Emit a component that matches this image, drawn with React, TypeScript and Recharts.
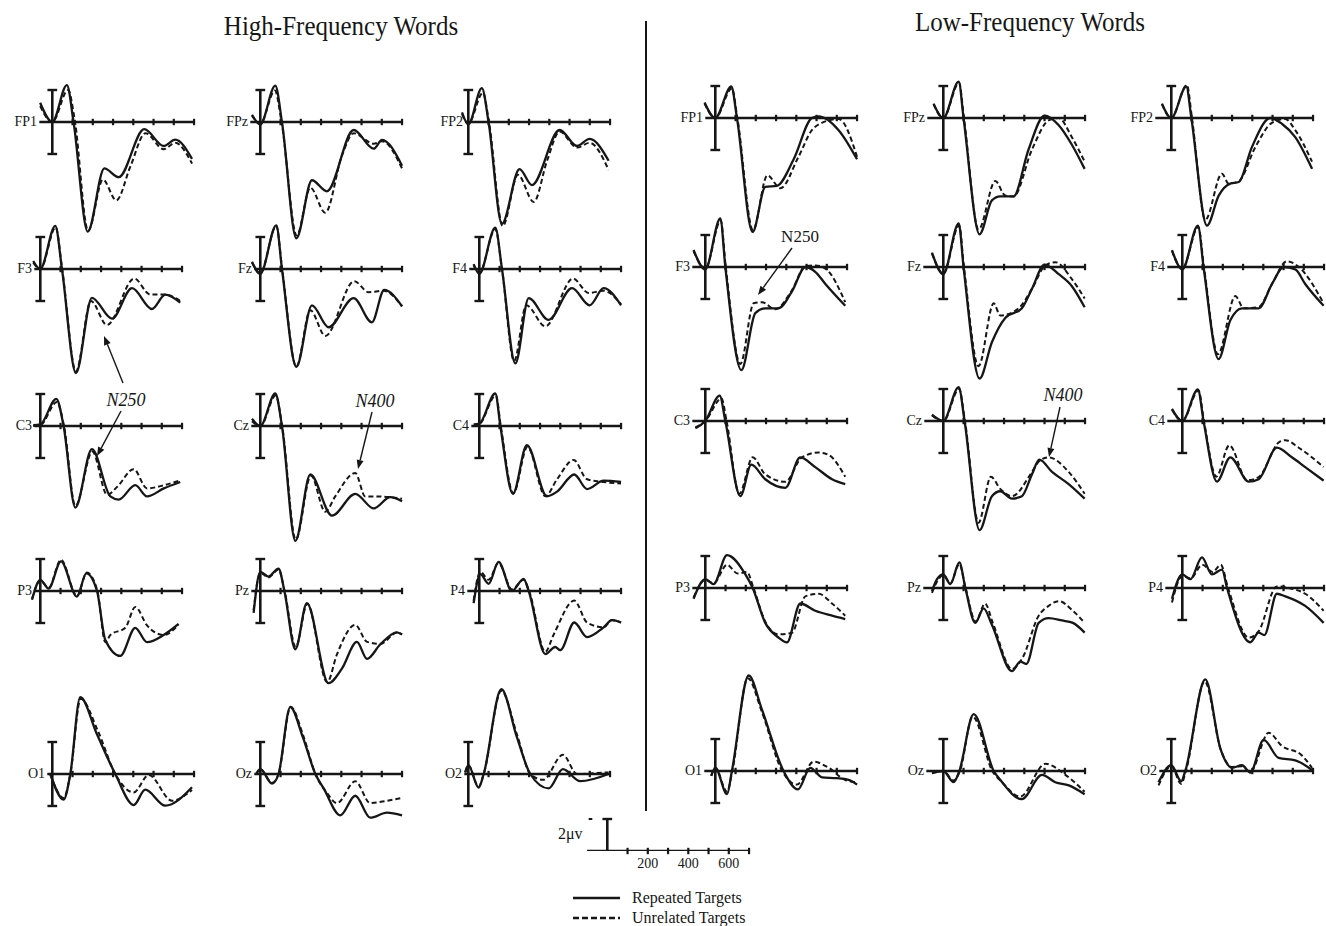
import React from "react"
import { LineChart, Line, XAxis, YAxis, ReferenceLine } from "recharts"

// ---- waveform data: [time ms, amplitude µV] ----
// High-frequency words
const HF_FP1_REP = [[-60, 1.2], [0, 0], [72, 2.3], [105, 0], [175, -6.85], [257, -2.9], [328, -3.45], [454, -0.45], [550, -1.5], [607, -1.1], [690, -2.3]]
const HF_FP1_UNR = [[-60, 1.0], [0, 0], [78, 2.0], [110, 0.2], [177, -6.8], [250, -3.6], [316, -4.9], [385, -2.8], [460, -0.7], [550, -1.7], [607, -1.3], [690, -2.6]]
const HF_FPZ_REP = [[-41, 0.45], [0, -0.15], [74, 2.27], [107, 0], [178, -7.27], [255, -3.64], [329, -4.33], [461, -0.5], [560, -1.67], [601, -1.12], [700, -2.73]]
const HF_FPZ_UNR = [[-41, 0.4], [0, -0.1], [72, 1.97], [105, 0], [180, -7.1], [247, -4.1], [321, -5.67], [403, -2.1], [461, -0.7], [560, -1.36], [601, -1.2], [700, -2.9]]
const HF_FP2_REP = [[-31, 0.6], [0, -0.15], [67, 2.12], [100, 0], [166, -6.36], [253, -2.94], [314, -3.94], [451, -0.5], [537, -1.5], [599, -1.06], [693, -2.42]]
const HF_FP2_UNR = [[-31, 0.5], [0, -0.1], [72, 1.82], [102, 0], [170, -6.5], [245, -3.3], [323, -5.0], [389, -2.42], [451, -0.6], [537, -1.6], [599, -1.3], [693, -3.0]]
const HF_F3_REP = [[-35, 0.5], [0, 0], [74, 2.7], [107, 0], [176, -6.5], [255, -1.8], [354, -3.1], [453, -1.2], [551, -2.5], [617, -1.6], [691, -2.1]]
const HF_F3_UNR = [[-35, 0.4], [0, 0], [76, 2.6], [108, 0], [176, -6.4], [250, -2.0], [329, -3.5], [464, -0.6], [543, -1.6], [617, -1.6], [691, -2.0]]
const HF_FZ_REP = [[-41, 0.45], [0, -0.3], [79, 2.73], [107, 0], [178, -6.12], [255, -2.27], [337, -3.64], [461, -1.82], [551, -3.33], [612, -1.3], [700, -2.33]]
const HF_FZ_UNR = [[-41, 0.4], [0, -0.25], [79, 2.7], [108, 0], [178, -6.1], [247, -2.58], [321, -4.18], [464, -0.76], [535, -1.45], [609, -1.36], [700, -2.33]]
const HF_F4_REP = [[-28, 0.3], [0, -0.3], [79, 2.58], [112, 0], [178, -5.9], [244, -1.82], [342, -3.18], [458, -1.2], [545, -2.27], [614, -1.2], [700, -2.27]]
const HF_F4_UNR = [[-28, 0.25], [0, -0.25], [79, 2.5], [112, 0], [172, -5.75], [232, -2.27], [326, -3.58], [463, -0.6], [540, -1.5], [614, -1.36], [700, -2.2]]
const HF_C3_REP = [[-35, 0.05], [0, 0.1], [79, 1.7], [115, 0], [173, -5.1], [255, -1.45], [346, -4.4], [387, -4.6], [469, -3.7], [527, -4.4], [610, -3.9], [691, -3.5]]
const HF_C3_UNR = [[-35, 0], [0, 0.05], [82, 1.5], [117, 0], [173, -5.0], [257, -1.6], [330, -4.3], [380, -3.8], [461, -2.7], [527, -3.9], [610, -3.7], [691, -3.4]]
const HF_CZ_REP = [[-41, 0.45], [0, 0], [74, 2.03], [107, 0], [173, -7.18], [247, -3.03], [354, -5.6], [469, -4.24], [560, -5.15], [642, -4.45], [700, -4.7]]
const HF_CZ_UNR = [[-41, 0.3], [0, 0], [76, 1.9], [108, 0], [175, -7.1], [250, -3.1], [321, -5.36], [370, -4.4], [469, -2.94], [518, -4.4], [580, -4.4], [642, -4.45], [700, -4.55]]
const HF_C4_REP = [[-28, 0.1], [0, 0.15], [79, 2.03], [104, 0], [166, -4.24], [235, -1.2], [334, -4.39], [384, -4.1], [469, -3.03], [532, -3.94], [614, -3.42], [700, -3.5]]
const HF_C4_UNR = [[-28, 0], [0, 0.1], [82, 1.9], [106, 0], [168, -4.2], [238, -1.3], [326, -4.39], [384, -3.33], [466, -2.12], [532, -3.33], [614, -3.5], [700, -3.6]]
const HF_P3_REP = [[-41, -0.55], [0, 0.7], [41, 0.15], [102, 1.85], [181, -0.35], [227, 1.1], [280, 0], [321, -3.06], [395, -4.06], [469, -2.3], [527, -3.2], [609, -2.75], [683, -2.06]]
const HF_P3_UNR = [[-41, -0.5], [0, 0.65], [41, 0.2], [102, 1.95], [181, -0.3], [230, 1.15], [282, 0], [321, -3.2], [346, -2.75], [420, -2.3], [469, -1.0], [527, -2.15], [609, -2.75], [683, -2.1]]
const HF_PZ_REP = [[-33, -1.36], [0, 1.2], [40, 0.9], [90, 1.4], [119, 0], [173, -3.64], [230, -0.76], [337, -5.76], [403, -4.85], [477, -3.18], [527, -4.24], [593, -3.33], [675, -2.58], [700, -2.73]]
const HF_PZ_UNR = [[-33, -1.2], [0, 1.15], [40, 0.85], [90, 1.35], [120, 0], [175, -3.5], [232, -0.8], [330, -5.7], [379, -3.94], [469, -2.12], [527, -3.18], [593, -3.3], [675, -2.6], [700, -2.7]]
const HF_P4_REP = [[-28, -0.76], [5, 1.06], [46, 0.45], [95, 1.82], [161, 0], [219, 0.76], [244, 0], [326, -3.94], [375, -3.5], [400, -3.7], [469, -1.97], [532, -2.88], [614, -2.27], [655, -1.82], [700, -1.97]]
const HF_P4_UNR = [[-28, -0.6], [5, 1.2], [46, 0.7], [95, 1.75], [161, 0.1], [219, 0.7], [246, 0], [326, -3.8], [367, -2.73], [469, -0.6], [532, -1.97], [614, -2.27], [655, -1.82], [700, -1.97]]
const HF_O1_REP = [[-10, 0], [56, -1.6], [89, 0], [138, 4.8], [220, 2.5], [311, 0], [402, -1.94], [459, -0.98], [558, -1.98], [690, -0.83]]
const HF_O1_UNR = [[-10, 0], [56, -1.5], [89, 0], [140, 4.7], [225, 2.7], [311, 0], [402, -1.15], [476, -0.06], [591, -1.67], [690, -1.0]]
const HF_OZ_REP = [[-20, 0], [0, 0.3], [58, -0.6], [90, 0], [148, 4.18], [210, 2.3], [272, 0], [313, -0.9], [395, -2.58], [469, -1.36], [543, -2.73], [626, -2.42], [700, -2.58]]
const HF_OZ_UNR = [[-20, 0], [0, 0.3], [58, -0.55], [90, 0], [150, 4.2], [212, 2.4], [272, 0], [330, -1.2], [379, -1.82], [469, -0.45], [543, -1.82], [626, -1.67], [700, -1.5]]
const HF_O2_REP = [[-15, 0.1], [0, 0.55], [51, -0.85], [76, 0], [163, 5.3], [240, 2.3], [306, 0], [397, -0.9], [467, 0.3], [553, -0.45], [693, 0]]
const HF_O2_UNR = [[-15, 0.1], [0, 0.55], [51, -0.8], [76, 0], [163, 5.2], [242, 2.4], [306, 0], [370, -0.36], [467, 1.2], [537, 0], [620, 0.05], [693, 0.1]]

// Low-frequency words
const LF_FP1_REP = [[-53, 0.97], [0, 0], [79, 1.97], [107, 0], [184, -7.12], [247, -4.3], [304, -4.24], [387, -2.58], [477, 0], [510, 0.1], [609, -0.76], [700, -2.58]]
const LF_FP1_UNR = [[-53, 0.9], [0, 0], [82, 1.85], [109, 0], [186, -7.0], [257, -3.58], [321, -4.39], [411, -2.42], [477, -0.76], [526, -0.3], [609, -0.06], [700, -2.42]]
const LF_FPZ_REP = [[-48, 0.9], [0, 0], [76, 2.27], [100, 0], [179, -7.27], [240, -5.15], [281, -4.9], [347, -4.9], [421, -1.97], [500, 0.15], [570, -0.45], [635, -1.67], [698, -3.18]]
const LF_FPZ_UNR = [[-48, 0.85], [0, 0], [78, 2.2], [102, 0], [174, -6.97], [257, -3.94], [306, -4.85], [347, -4.9], [438, -1.97], [520, -0.15], [570, 0], [635, -1.2], [698, -2.73]]
const LF_FP2_REP = [[-46, 0.9], [0, 0], [74, 1.97], [99, 0], [176, -6.73], [234, -4.85], [291, -4.1], [333, -4.0], [398, -1.82], [489, 0], [546, -0.36], [612, -1.2], [695, -3.18]]
const LF_FP2_UNR = [[-46, 0.85], [0, 0], [77, 2.06], [102, 0], [168, -6.36], [250, -3.48], [283, -4.1], [333, -3.95], [415, -1.82], [497, -0.3], [563, -0.06], [612, -0.76], [695, -2.73]]
const LF_F3_REP = [[-58, 1.06], [0, -0.15], [74, 3.03], [99, 0], [178, -6.45], [247, -2.88], [296, -2.58], [362, -2.58], [428, -1.52], [494, 0], [543, -0.3], [593, -1.06], [691, -2.42]]
const LF_F3_UNR = [[-58, 1.0], [0, -0.1], [76, 2.9], [101, 0], [173, -6.06], [239, -2.27], [280, -2.2], [345, -2.64], [428, -1.45], [494, 0.05], [543, 0.1], [593, -0.1], [691, -2.2]]
const LF_FZ_REP = [[-56, 0.9], [0, -0.45], [76, 2.73], [100, 0], [179, -6.97], [240, -4.7], [306, -3.18], [388, -2.58], [438, -1.36], [500, 0.15], [570, -0.45], [635, -1.2], [698, -2.52]]
const LF_FZ_UNR = [[-56, 0.85], [0, -0.4], [78, 2.6], [102, 0], [174, -6.2], [249, -2.27], [281, -3.03], [372, -2.58], [438, -1.36], [500, 0.05], [553, 0.3], [635, -0.76], [698, -1.97]]
const LF_F4_REP = [[-51, 1.06], [0, -0.15], [77, 2.58], [105, 0], [179, -5.76], [237, -3.33], [295, -2.58], [377, -2.58], [443, -1.06], [500, 0], [558, -0.15], [607, -1.06], [698, -2.42]]
const LF_F4_UNR = [[-51, 1.0], [0, -0.1], [79, 2.5], [107, 0], [176, -5.45], [262, -1.82], [303, -2.58], [377, -2.5], [443, -1.06], [517, 0.36], [575, 0], [698, -2.27]]
const LF_C3_REP = [[-49, -0.45], [0, 0], [71, 1.58], [99, 0], [173, -4.7], [227, -2.73], [296, -3.64], [395, -4.18], [469, -2.27], [543, -2.88], [626, -3.64], [691, -3.94]]
const LF_C3_UNR = [[-49, -0.4], [0, 0], [80, 1.4], [105, 0], [168, -4.55], [234, -2.27], [296, -3.33], [395, -3.8], [477, -2.27], [560, -1.97], [609, -2.12], [691, -3.48]]
const LF_CZ_REP = [[-56, 0.4], [0, 0], [76, 2.12], [105, 0], [179, -6.82], [240, -4.7], [281, -4.39], [339, -4.85], [388, -4.7], [438, -3.33], [474, -2.42], [537, -3.18], [619, -3.94], [698, -4.85]]
const LF_CZ_UNR = [[-56, 0.35], [0, 0], [78, 2.0], [107, 0], [174, -6.36], [235, -3.48], [281, -4.24], [339, -4.7], [438, -3.18], [474, -2.5], [520, -2.27], [619, -3.18], [698, -4.55]]
const LF_C4_REP = [[-51, 0.76], [0, 0], [77, 1.97], [105, 0], [171, -3.79], [237, -2.27], [328, -3.79], [377, -3.64], [467, -1.67], [541, -2.27], [607, -2.88], [698, -3.73]]
const LF_C4_UNR = [[-51, 0.7], [0, 0], [80, 1.9], [107, 0], [168, -3.48], [232, -1.52], [320, -3.7], [377, -3.5], [480, -1.3], [509, -1.2], [575, -1.67], [698, -2.88]]
const LF_P3_REP = [[-58, -0.67], [0, 0.55], [41, 0.24], [107, 2.06], [198, 0.85], [234, 0], [296, -2.18], [362, -3.1], [403, -3.4], [469, -0.97], [543, -1.42], [626, -1.73], [691, -1.94]]
const LF_P3_UNR = [[-58, -0.6], [0, 0.5], [41, 0.3], [107, 1.45], [160, 0.9], [206, 1.0], [238, 0], [296, -2.1], [362, -2.9], [428, -2.8], [494, -0.52], [560, -0.36], [626, -0.97], [691, -1.73]]
const LF_PZ_REP = [[-56, -0.2], [-31, 0.55], [0, 0.85], [35, 0.24], [79, 1.6], [109, 0], [158, -2.18], [199, -1.27], [240, -2.3], [339, -5.2], [380, -4.6], [410, -4.75], [471, -2.18], [520, -1.88], [586, -2.03], [640, -2.18], [698, -2.79]]
const LF_PZ_UNR = [[-56, -0.3], [-31, 0.4], [0, 0.8], [35, 0.3], [79, 1.5], [110, 0], [160, -2.1], [206, -0.97], [245, -2.2], [339, -5.06], [390, -4.4], [471, -1.73], [520, -1.12], [570, -0.82], [640, -1.42], [698, -2.18]]
const LF_P4_REP = [[-51, -0.67], [0, 0.85], [40, 0.55], [97, 1.91], [146, 0.85], [196, 1.15], [221, 0], [336, -3.39], [377, -2.79], [405, -2.95], [467, -0.36], [509, -0.52], [607, -1.12], [698, -2.18]]
const LF_P4_UNR = [[-51, -0.9], [0, 0.75], [40, 0.6], [99, 1.45], [150, 1.0], [190, 1.45], [226, 0], [328, -3.1], [377, -2.7], [467, 0.1], [525, 0], [607, -0.36], [698, -1.42]]
const LF_O1_REP = [[-20, -0.3], [0, 0.2], [58, -1.45], [82, 0], [165, 5.97], [230, 3.85], [337, 0], [408, -1.15], [469, 0.2], [527, -0.4], [600, -0.45], [658, -0.55], [700, -0.85]]
const LF_O1_UNR = [[-20, -0.3], [0, 0.2], [58, -1.3], [84, 0], [160, 5.8], [230, 3.7], [330, 0], [403, -0.85], [485, 0.58], [560, 0.2], [640, -0.55], [700, -0.7]]
const LF_OZ_REP = [[-56, -0.1], [0, 0], [51, -0.7], [79, 0], [150, 3.55], [249, 0], [281, -0.55], [388, -1.76], [487, -0.24], [553, -0.7], [620, -0.9], [698, -1.45]]
const LF_OZ_UNR = [[-56, -0.15], [0, 0], [51, -0.6], [82, 0], [145, 3.4], [242, 0], [290, -0.7], [380, -1.6], [504, 0.45], [603, -0.24], [698, -1.3]]
const LF_O2_REP = [[-63, -0.7], [0, 0.36], [49, -0.64], [69, 0], [168, 5.73], [242, 1.42], [300, 0.2], [349, 0.36], [390, -0.1], [456, 1.94], [530, 0.82], [612, 0.67], [695, 0.06]]
const LF_O2_UNR = [[-63, -0.9], [0, 0.3], [49, -0.8], [72, 0], [165, 5.6], [245, 1.3], [300, 0.25], [349, 0.3], [390, -0.05], [481, 2.39], [545, 1.58], [645, 0.97], [695, 0.2]]

const AXIS_TICKS = [100, 200, 300, 400, 500, 600, 700]
const SCALE_LABELS = [200, 400, 600]

// ---- geometry ----
const SX = 0.2025 // px per ms
const SY = 16 // px per µV
const X0 = -120
const CW = 174
const X1 = X0 + CW / SX
const Y0 = -8
const Y1 = 6.5
const CH = (Y1 - Y0) * SY
const INK = "#161616"
const FONT = '"Liberation Serif", "Times New Roman", serif'

const pts = (arr: number[][]) => arr.map(([t, v]) => ({ t, v }))

// label, t=0 x, baseline y, label right edge, repeated, unrelated
const PANELS: [string, number, number, number, number[][], number[][]][] = [
  ["FP1", 52, 122, 37, HF_FP1_REP, HF_FP1_UNR],
  ["FPz", 260, 122, 248, HF_FPZ_REP, HF_FPZ_UNR],
  ["FP2", 468, 122, 463, HF_FP2_REP, HF_FP2_UNR],
  ["F3", 40, 269, 32, HF_F3_REP, HF_F3_UNR],
  ["Fz", 260, 269, 252, HF_FZ_REP, HF_FZ_UNR],
  ["F4", 479, 269, 467, HF_F4_REP, HF_F4_UNR],
  ["C3", 40, 426, 32, HF_C3_REP, HF_C3_UNR],
  ["Cz", 260, 426, 249, HF_CZ_REP, HF_CZ_UNR],
  ["C4", 479, 426, 469, HF_C4_REP, HF_C4_UNR],
  ["P3", 40, 591, 32, HF_P3_REP, HF_P3_UNR],
  ["Pz", 260, 591, 249, HF_PZ_REP, HF_PZ_UNR],
  ["P4", 479, 591, 465, HF_P4_REP, HF_P4_UNR],
  ["O1", 52, 774, 45, HF_O1_REP, HF_O1_UNR],
  ["Oz", 260, 774, 252, HF_OZ_REP, HF_OZ_UNR],
  ["O2", 468, 774, 462, HF_O2_REP, HF_O2_UNR],
  ["FP1", 715, 118, 703, LF_FP1_REP, LF_FP1_UNR],
  ["FPz", 943, 118, 925, LF_FPZ_REP, LF_FPZ_UNR],
  ["FP2", 1171, 118, 1153, LF_FP2_REP, LF_FP2_UNR],
  ["F3", 705, 267, 690, LF_F3_REP, LF_F3_UNR],
  ["Fz", 943, 267, 921, LF_FZ_REP, LF_FZ_UNR],
  ["F4", 1182, 267, 1165, LF_F4_REP, LF_F4_UNR],
  ["C3", 705, 421, 690, LF_C3_REP, LF_C3_UNR],
  ["Cz", 943, 421, 922, LF_CZ_REP, LF_CZ_UNR],
  ["C4", 1182, 421, 1165, LF_C4_REP, LF_C4_UNR],
  ["P3", 705, 588, 690, LF_P3_REP, LF_P3_UNR],
  ["Pz", 943, 588, 921, LF_PZ_REP, LF_PZ_UNR],
  ["P4", 1182, 588, 1163, LF_P4_REP, LF_P4_UNR],
  ["O1", 715, 771, 702, LF_O1_REP, LF_O1_UNR],
  ["Oz", 943, 771, 924, LF_OZ_REP, LF_OZ_UNR],
  ["O2", 1171, 771, 1157, LF_O2_REP, LF_O2_UNR],
]

function seg(x1: number, y1: number, x2: number, y2: number, w = 2.6) {
  return (
    <ReferenceLine
      key={`${x1}-${y1}-${x2}-${y2}`}
      segment={[{ x: x1, y: y1 }, { x: x2, y: y2 }]}
      stroke={INK}
      strokeWidth={w}
      ifOverflow="visible"
    />
  )
}

function Panel({ label, barX, axisY, labelRight, rep, unr }: any) {
  const axStart = (labelRight + 2 - barX) / SX
  return (
    <>
      <div style={{
        position: "absolute", left: labelRight - 40, width: 40, top: axisY - 9,
        textAlign: "right", fontSize: 14, lineHeight: "18px", fontFamily: FONT, color: INK
      }}>{label}</div>
      <div style={{ position: "absolute", left: barX + X0 * SX, top: axisY - Y1 * SY }}>
        <LineChart width={CW} height={CH} margin={{ top: 0, right: 0, bottom: 0, left: 0 }}>
          <XAxis type="number" dataKey="t" domain={[X0, X1]} hide allowDataOverflow />
          <YAxis type="number" dataKey="v" domain={[Y0, Y1]} hide allowDataOverflow />
          {seg(axStart, 0, 700, 0)}
          {AXIS_TICKS.map(t => seg(t, -0.2, t, 0.2, 2.2))}
          {seg(0, -2, 0, 2, 2.6)}
          {seg(-24, 2, 24, 2, 2.4)}
          {seg(-24, -2, 24, -2, 2.4)}
          <Line data={pts(unr)} dataKey="v" type="monotone" stroke={INK} strokeWidth={2}
            strokeDasharray="5 3" dot={false} isAnimationActive={false} />
          <Line data={pts(rep)} dataKey="v" type="monotone" stroke={INK} strokeWidth={2.3}
            dot={false} isAnimationActive={false} />
        </LineChart>
      </div>
    </>
  )
}

function Arrow({ x1, y1, x2, y2 }: any) {
  const a = Math.atan2(y2 - y1, x2 - x1)
  const L = 9, w = 3.5
  const bx = x2 - L * Math.cos(a), by = y2 - L * Math.sin(a)
  const p = `${x2},${y2} ${bx + w * Math.sin(a)},${by - w * Math.cos(a)} ${bx - w * Math.sin(a)},${by + w * Math.cos(a)}`
  return (
    <g>
      <line x1={x1} y1={y1} x2={bx} y2={by} stroke={INK} strokeWidth={1.4} />
      <polygon points={p} fill={INK} />
    </g>
  )
}

const SCALE_AXIS = pts([[-100, 0], [700, 0]])

export default function App() {
  const textStyle = { fontFamily: FONT, fill: INK }
  return (
    <div style={{ position: "absolute", left: 0, top: 0, width: 1326, height: 926, background: "#fff", overflow: "hidden" }}>
      <div style={{ position: "absolute", left: 141, width: 400, top: 12, textAlign: "center", fontFamily: FONT, fontSize: 25, color: INK, transform: "scaleY(1.1)" }}>
        High-Frequency Words
      </div>
      <div style={{ position: "absolute", left: 830, width: 400, top: 8, textAlign: "center", fontFamily: FONT, fontSize: 25, color: INK, transform: "scaleY(1.1)" }}>
        Low-Frequency Words
      </div>

      {PANELS.map(([label, barX, axisY, labelRight, rep, unr], i) => (
        <Panel key={i} label={label} barX={barX} axisY={axisY} labelRight={labelRight} rep={rep} unr={unr} />
      ))}

      {/* scale bar */}
      <div style={{ position: "absolute", left: 607 + X0 * SX, top: 851 - 2.5 * SY }}>
        <LineChart width={CW} height={2.5 * SY + 24} margin={{ top: 0, right: 0, bottom: 0, left: 0 }}>
          <XAxis type="number" dataKey="t" domain={[X0, X1]} ticks={SCALE_LABELS} interval={0}
            axisLine={false} tickLine={false} tickSize={5} tickMargin={2} height={24} allowDataOverflow
            tick={{ fontSize: 14, fill: INK, fontFamily: FONT }} />
          <YAxis type="number" dataKey="v" domain={[0, 2.5]} hide allowDataOverflow />
          <Line data={SCALE_AXIS} dataKey="v" stroke={INK} strokeWidth={2.6} dot={false} isAnimationActive={false} />
          {AXIS_TICKS.map(t => seg(t, -0.2, t, 0.2, 2.2))}
          {seg(0, 0, 0, 2, 2.6)}
          {seg(-24, 2, 24, 2, 2.4)}
          {seg(-92, 2, -74, 2, 2)}
        </LineChart>
      </div>
      <div style={{ position: "absolute", left: 558, top: 825, fontFamily: FONT, fontSize: 16, color: INK }}>2μv</div>

      <svg width={1326} height={926} style={{ position: "absolute", left: 0, top: 0, pointerEvents: "none" }}>
        <line x1={646} y1={21} x2={646} y2={811} stroke={INK} strokeWidth={2} />

        <Arrow x1={123} y1={383} x2={104} y2={336} />
        <text x={126} y={406} textAnchor="middle" fontSize={18} fontStyle="italic" {...textStyle}>N250</text>
        <Arrow x1={121} y1={411} x2={97} y2={456} />
        <text x={375} y={407} textAnchor="middle" fontSize={18} fontStyle="italic" {...textStyle}>N400</text>
        <Arrow x1={372} y1={412} x2={358} y2={469} />
        <text x={800} y={242} textAnchor="middle" fontSize={17} {...textStyle}>N250</text>
        <Arrow x1={792} y1={248} x2={758} y2={295} />
        <text x={1063} y={401} textAnchor="middle" fontSize={18} fontStyle="italic" {...textStyle}>N400</text>
        <Arrow x1={1060} y1={407} x2={1049} y2={457} />

        <line x1={573} y1={898} x2={620} y2={898} stroke={INK} strokeWidth={2.3} />
        <line x1={573} y1={918} x2={620} y2={918} stroke={INK} strokeWidth={2.3} strokeDasharray="6 3" />
        <text x={632} y={903} fontSize={16} {...textStyle}>Repeated Targets</text>
        <text x={632} y={923} fontSize={16} {...textStyle}>Unrelated Targets</text>
      </svg>
    </div>
  )
}
